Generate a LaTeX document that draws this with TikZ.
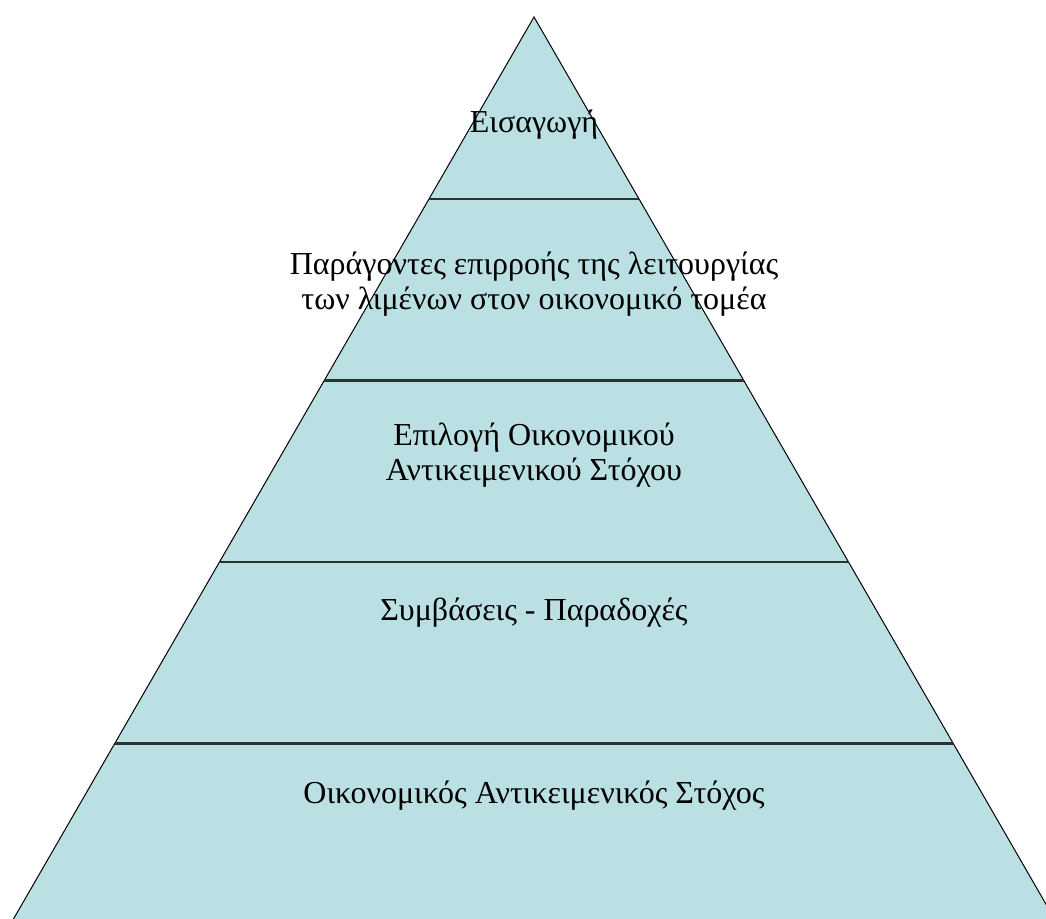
\documentclass[tikz,border=0pt]{standalone}
\usepackage{fontspec}
\setmainfont{Liberation Serif}
\begin{document}
\begin{tikzpicture}[x=1pt,y=-1pt,
  band/.style={draw=black!80!cyan!40!black, line width=2.6pt},
  label/.style={font=\fontsize{32}{35}\selectfont, align=center, text=black, inner sep=0pt}]
\definecolor{pyrfill}{RGB}{187,224,227}
\useasboundingbox (0,0) rectangle (1046,918);
\clip (0,0) rectangle (1046,918);
% pyramid body
\coordinate (apex) at (534,17);
\coordinate (bl) at (10,925);
\coordinate (br) at (1058,925);
\filldraw[fill=pyrfill, draw=black, line width=1pt] (apex) -- (bl) -- (br) -- cycle;
% level separators
\foreach \y in {199,380.5,562,743.5}{
  \pgfmathsetmacro{\hw}{0.5772*(\y-17)}
  \draw[band] (534-\hw,\y) -- (534+\hw,\y);
}
% level labels
\node[label, anchor=base] (l1) at (534,132) {Εισαγωγή};
\node[label] (l2) at (534,284) {Παράγοντες επιρροής της λειτουργίας\\των λιμένων στον οικονομικό τομέα};
\node[label] (l3) at (534,455) {Επιλογή Οικονομικού\\Αντικειμενικού Στόχου};
\node[label, anchor=base] (l4) at (534,620) {Συμβάσεις - Παραδοχές};
\node[label, anchor=base] (l5) at (534,803) {Οικονομικός Αντικειμενικός Στόχος};
\end{tikzpicture}
\end{document}
